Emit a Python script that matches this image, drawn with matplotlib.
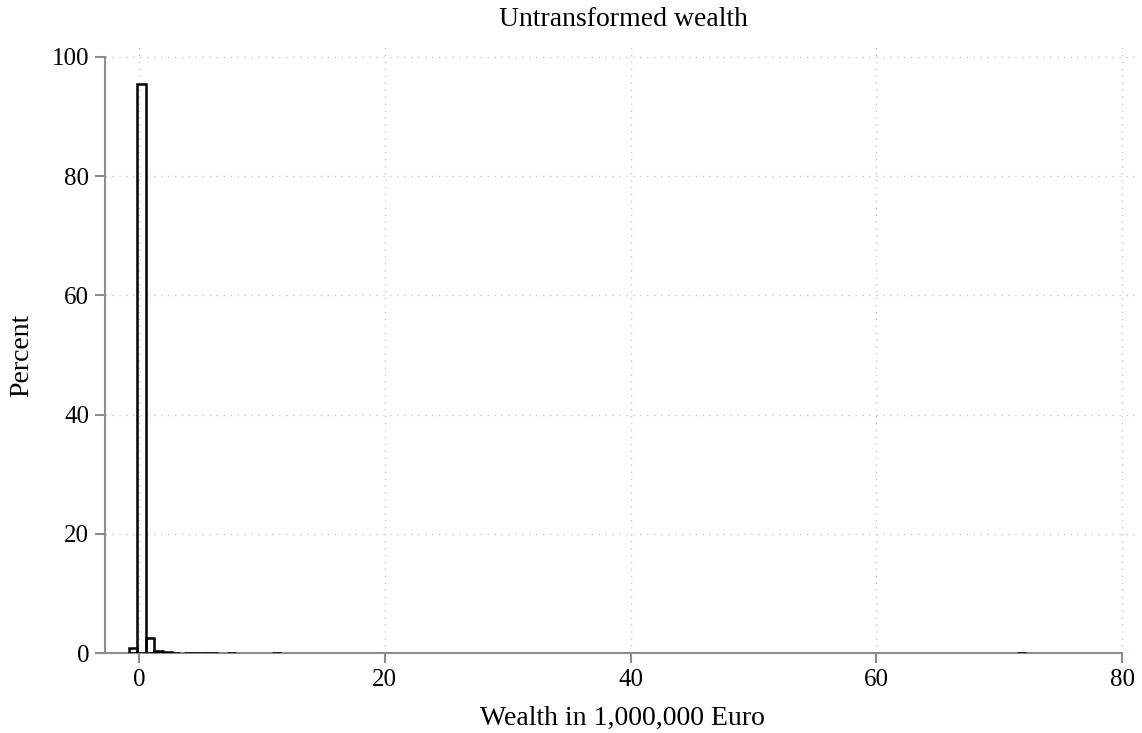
import matplotlib.pyplot as plt
import numpy as np

plt.rcParams["font.family"] = ["Liberation Serif", "DejaVu Serif"]

# Histogram bins (left edges, in 1,000,000 Euro) and percent per bin
bin_width = 0.7
bin_left = np.array([-0.85, -0.15, 0.55, 1.25, 1.95, 2.65,
                     3.65, 4.35, 5.05, 5.75, 7.15, 10.85, 71.45])
percent = np.array([0.8, 95.4, 2.5, 0.35, 0.12, 0.06,
                    0.04, 0.04, 0.04, 0.04, 0.04, 0.04, 0.04])

x_ticks = [0, 20, 40, 60, 80]
y_ticks = [0, 20, 40, 60, 80, 100]

fig = plt.figure(figsize=(11.42, 7.33), dpi=100)
ax = fig.add_axes([105 / 1142, 80 / 733, 1035 / 1142, 611 / 733])

ax.bar(bin_left, percent, width=bin_width, align="edge",
       fill=False, edgecolor="black", linewidth=1.8, zorder=3)

ax.set_xlim(-2.77, 81.45)
ax.set_ylim(0, 102.5)
ax.set_xticks(x_ticks)
ax.set_yticks(y_ticks)
ax.grid(True, linestyle=(0, (1, 4)), color="#c8c8c8", linewidth=1.0, zorder=0)

for side in ["top", "right"]:
    ax.spines[side].set_visible(False)
ax.spines["left"].set_bounds(0, 100)
ax.spines["bottom"].set_bounds(-2.77, 80)
for side in ["left", "bottom"]:
    ax.spines[side].set_color("#8c8c8c")
    ax.spines[side].set_linewidth(1.5)
    ax.spines[side].set_zorder(2)
ax.tick_params(direction="out", length=7.5, width=1.5, color="#8c8c8c",
               labelsize=18, pad=4)

fig.text(623 / 1142, 1 - 20 / 733, "Untransformed wealth",
         ha="center", va="center", fontsize=20)
fig.text(622 / 1142, 1 - 718 / 733, "Wealth in 1,000,000 Euro",
         ha="center", va="center", fontsize=20)
fig.text(22 / 1142, 1 - 355 / 733, "Percent", rotation=90,
         ha="center", va="center", fontsize=20)

fig.savefig("out.png", dpi=100)
